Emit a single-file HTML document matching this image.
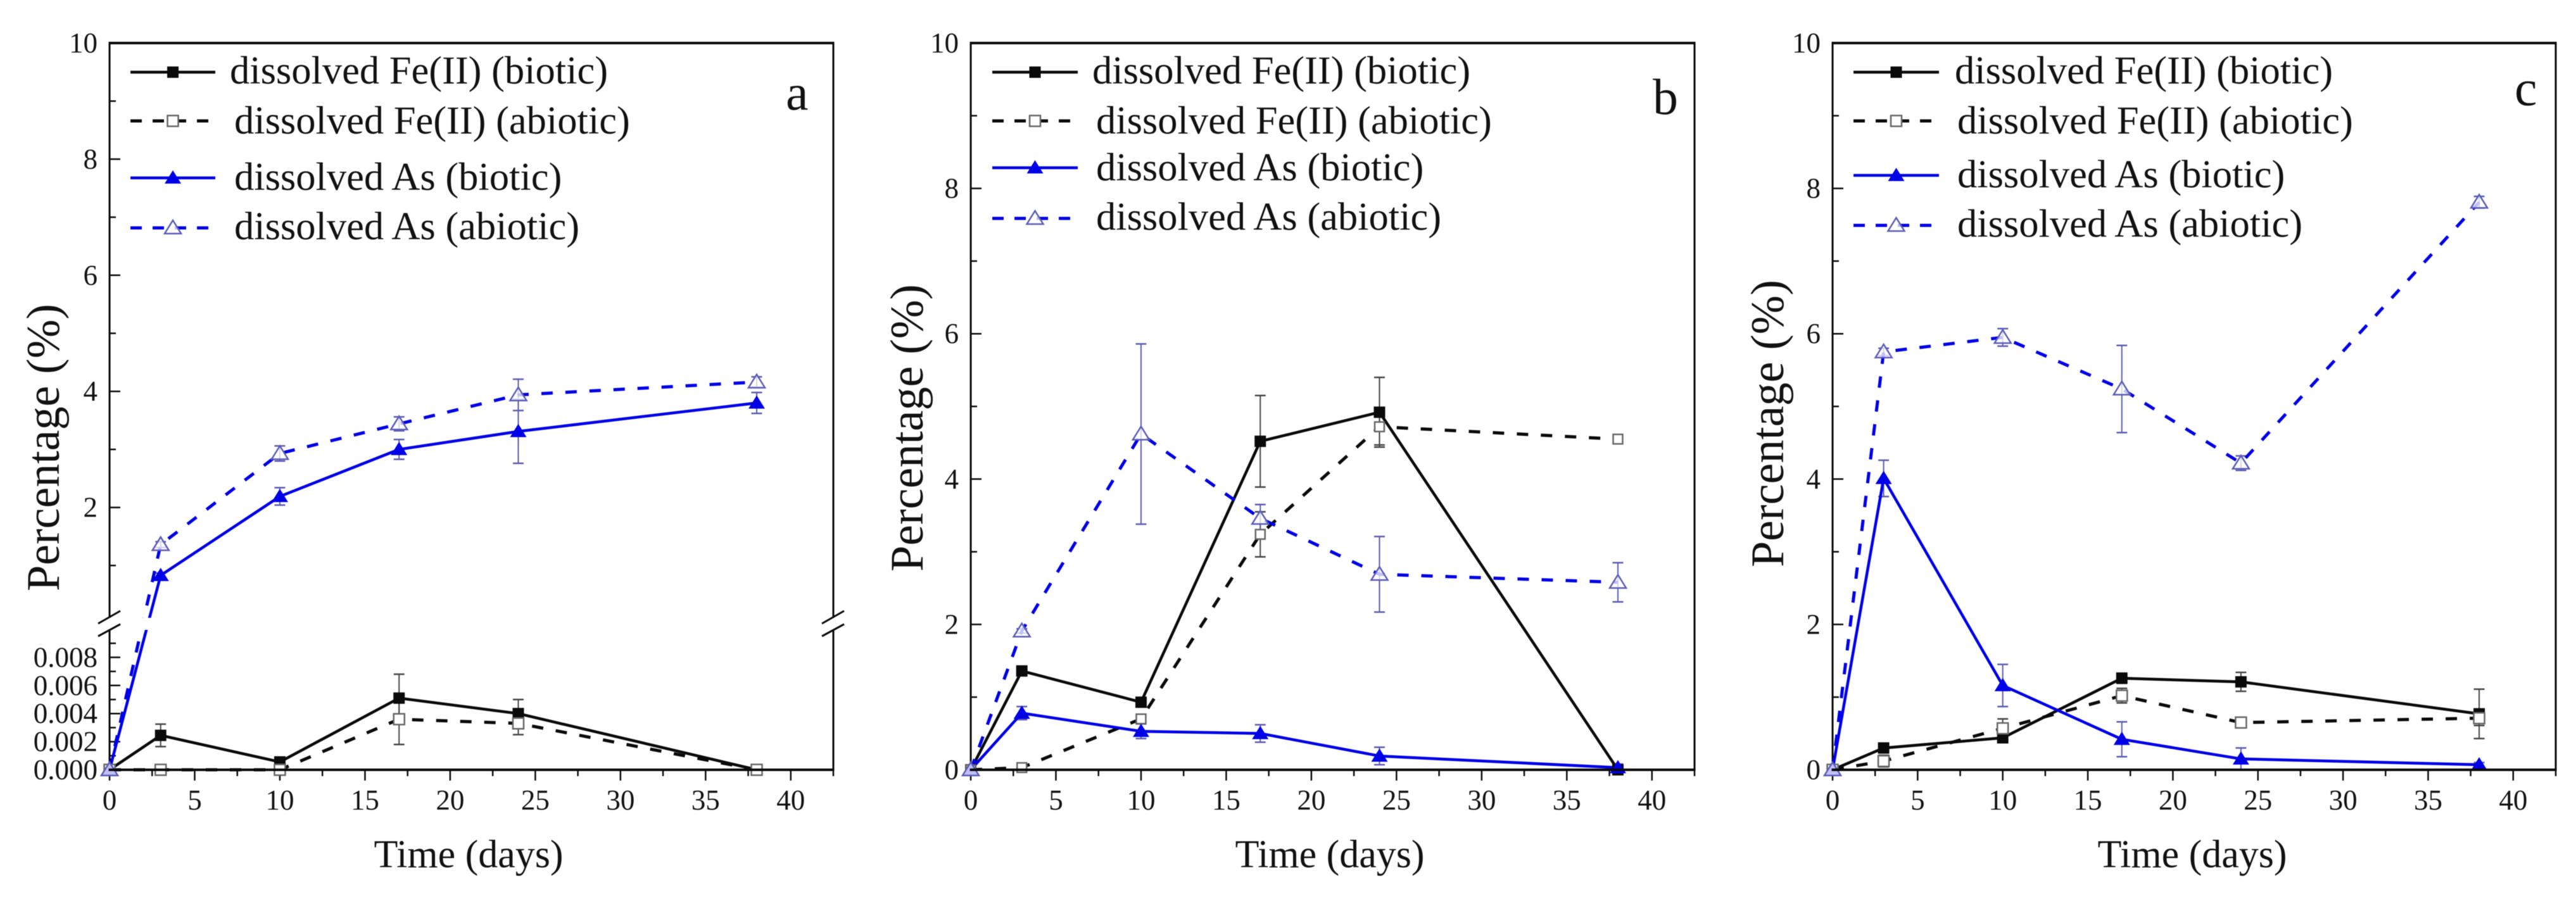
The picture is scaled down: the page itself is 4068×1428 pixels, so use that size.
<!DOCTYPE html>
<html lang="en">
<head>
<meta charset="utf-8">
<title>Dissolved Fe(II) and As percentage over time</title>
<style>
html,body{margin:0;padding:0;background:#fff;width:4068px;height:1428px;overflow:hidden}
svg{display:block;filter:blur(0.6px)}
text{font-family:"Liberation Serif",serif;fill:#111}
.leg{font-size:62.5px}
.xt{font-size:62px}
.yt{font-size:74px}
.pl{font-size:80px}
</style>
</head>
<body>
<svg id="figure" xmlns="http://www.w3.org/2000/svg" width="4068" height="1428" viewBox="0 0 4068 1428">
  <rect width="4068" height="1428" fill="#fff"/>
  <g id="panel-a">
    <g id="plot-a"></g>
    <text class="leg" x="363" y="132">dissolved Fe(II) (biotic)</text>
    <text class="leg" x="370" y="211">dissolved Fe(II) (abiotic)</text>
    <text class="leg" x="370" y="300">dissolved As (biotic)</text>
    <text class="leg" x="370" y="378">dissolved As (abiotic)</text>
    <text class="pl" x="1241" y="173">a</text>
    <text class="xt" x="740" y="1370" text-anchor="middle">Time (days)</text>
    <text class="yt" transform="translate(93 707) rotate(-90)" text-anchor="middle">Percentage (%)</text>
  </g>
  <g id="panel-b">
    <g id="plot-b"></g>
    <text class="leg" x="1725" y="132">dissolved Fe(II) (biotic)</text>
    <text class="leg" x="1731" y="211">dissolved Fe(II) (abiotic)</text>
    <text class="leg" x="1731" y="285">dissolved As (biotic)</text>
    <text class="leg" x="1731" y="363">dissolved As (abiotic)</text>
    <text class="pl" x="2610" y="180">b</text>
    <text class="xt" x="2100" y="1370" text-anchor="middle">Time (days)</text>
    <text class="yt" transform="translate(1457 676) rotate(-90)" text-anchor="middle">Percentage (%)</text>
  </g>
  <g id="panel-c">
    <g id="plot-c"></g>
    <text class="leg" x="3087" y="132">dissolved Fe(II) (biotic)</text>
    <text class="leg" x="3091" y="211">dissolved Fe(II) (abiotic)</text>
    <text class="leg" x="3091" y="296">dissolved As (biotic)</text>
    <text class="leg" x="3091" y="374">dissolved As (abiotic)</text>
    <text class="pl" x="3971" y="166">c</text>
    <text class="xt" x="3462" y="1370" text-anchor="middle">Time (days)</text>
    <text class="yt" transform="translate(2816 669) rotate(-90)" text-anchor="middle">Percentage (%)</text>
  </g>
</svg>
<script>
// ---- shared categories and tick labels ----
const days = [0, 3, 10, 17, 24, 38];
const xTickLabels = [0, 5, 10, 15, 20, 25, 30, 35, 40];
const xMinorTicks = [2.5, 7.5, 12.5, 17.5, 22.5, 27.5, 32.5, 37.5, 42.5];
const yTickLabels = [0, 2, 4, 6, 8, 10];
const yMinorTicks = [1, 3, 5, 7, 9];
const yLowTickLabels = ['0.000', '0.002', '0.004', '0.006', '0.008'];
const yLowMinorTicks = [0.001, 0.003, 0.005, 0.007, 0.009];

// ---- panel a values ----
const aFeBio = [0, 0.00245, 0.00056, 0.0051, 0.004, 0];
const aFeBioErr = [0, 0.0008, 0, 0.0017, 0.001, 0];
const aFeAbio = [0, 0, 0, 0.0036, 0.0033, 0];
const aFeAbioErr = [0, 0, 0, 0.0018, 0.0008, 0];
const aAsBio = [0, 0.83, 2.19, 3.0, 3.31, 3.8];
const aAsBioErr = [0, 0.04, 0.15, 0.17, 0.55, 0.18];
const aAsAbio = [0, 1.36, 2.93, 3.44, 3.94, 4.16];
const aAsAbioErr = [0, 0.05, 0.13, 0.12, 0.27, 0.09];

// ---- panel b values ----
const bFeBio = [0, 1.36, 0.93, 4.52, 4.92, 0];
const bFeBioErr = [0, 0.05, 0.05, 0.63, 0.48, 0];
const bFeAbio = [0, 0.03, 0.7, 3.24, 4.72, 4.55];
const bFeAbioErr = [0, 0.03, 0.05, 0.31, 0.25, 0.05];
const bAsBio = [0, 0.78, 0.53, 0.5, 0.19, 0.03];
const bAsBioErr = [0, 0.09, 0.1, 0.12, 0.12, 0.05];
const bAsAbio = [0, 1.91, 4.62, 3.46, 2.69, 2.58];
const bAsAbioErr = [0, 0.03, 1.24, 0.19, 0.52, 0.27];

// ---- panel c values ----
const cFeBio = [0, 0.3, 0.44, 1.26, 1.21, 0.77];
const cFeBioErr = [0, 0.05, 0.05, 0.07, 0.13, 0.34];
const cFeAbio = [0, 0.12, 0.57, 1.02, 0.65, 0.71];
const cFeAbioErr = [0, 0.08, 0.13, 0.1, 0.05, 0.1];
const cAsBio = [0, 4.01, 1.16, 0.42, 0.15, 0.07];
const cAsBioErr = [0, 0.25, 0.29, 0.24, 0.15, 0.03];
const cAsAbio = [0, 5.75, 5.95, 5.24, 4.22, 7.81];
const cAsAbioErr = [0, 0.05, 0.12, 0.6, 0.1, 0.08];

const NS = 'http://www.w3.org/2000/svg';
const BLACK = '#0a0a0a', BLUE = '#0000e6', EBLACK = '#444', EBLUE = '#5a5ab4', OPENK = '#666', OPENB = '#5c5cb8';
const TOP = 68, BOTTOM = 1216;

function add(parent, tag, name, attrs, txt) {
  const el = document.createElementNS(NS, tag);
  
  
  for (const k in attrs) el.setAttribute(k, attrs[k]);
  if (txt !== undefined) el.textContent = txt;
  parent.appendChild(el);
  return el;
}

function marker(g, name, kind, x, y, sq, col) {
  if (kind === 'fs') {
    add(g, 'rect', name, {x: x - 9, y: y - 9, width: 18, height: 18, fill: BLACK});
  } else if (kind === 'os') {
    add(g, 'rect', name, {x: x - sq / 2, y: y - sq / 2, width: sq, height: sq, fill: '#fff', stroke: col, 'stroke-width': 2.5});
  } else if (kind === 'ft') {
    add(g, 'polygon', name, {points: (x - 13) + ',' + (y + 9) + ' ' + (x + 13) + ',' + (y + 9) + ' ' + x + ',' + (y - 12), fill: BLUE});
  } else {
    add(g, 'polygon', name, {points: (x - 13) + ',' + (y + 9) + ' ' + (x + 13) + ',' + (y + 9) + ' ' + x + ',' + (y - 12), fill: '#fff', 'fill-opacity': 0.75, stroke: col, 'stroke-width': 2.5});
  }
}

function drawPanel(cfg) {
  const g = document.getElementById(cfg.id);
  const sx = v => cfg.x0 + (v / 42.5) * (cfg.x1 - cfg.x0);
  const sy = cfg.y;

  // frame
  add(g, 'line', 'left-axis', {x1: cfg.x0, x2: cfg.x0, y1: TOP, y2: BOTTOM, stroke: BLACK, 'stroke-width': 3});
  add(g, 'line', 'right-axis', {x1: cfg.x1, x2: cfg.x1, y1: TOP, y2: BOTTOM, stroke: BLACK, 'stroke-width': 3});
  add(g, 'line', 'top-axis', {x1: cfg.x0 - 1.5, x2: cfg.x1 + 1.5, y1: TOP, y2: TOP, stroke: BLACK, 'stroke-width': 4});

  // x ticks
  xTickLabels.forEach(v => {
    add(g, 'line', 'x-tick', {x1: sx(v), x2: sx(v), y1: BOTTOM, y2: BOTTOM + 17, stroke: BLACK, 'stroke-width': 2.5});
    add(g, 'text', 'x-tick-label', {x: sx(v), y: 1279, 'text-anchor': 'middle', 'font-size': 45}, String(v));
  });
  xMinorTicks.forEach(v => {
    add(g, 'line', 'x-minor-tick', {x1: sx(v), x2: sx(v), y1: BOTTOM, y2: BOTTOM + 10, stroke: BLACK, 'stroke-width': 2.5});
  });

  // y ticks
  const yTick = (py, len, label) => {
    add(g, 'line', 'y-tick', {x1: cfg.x0, x2: cfg.x0 + len, y1: py, y2: py, stroke: BLACK, 'stroke-width': 2.5});
    if (label !== undefined) {
      add(g, 'text', 'y-tick-label', {x: cfg.x0 - 19, y: py + 15, 'text-anchor': 'end', 'font-size': 45}, label);
    }
  };
  yTickLabels.forEach(v => {
    if (cfg.broken && v === 0) return;
    yTick(sy(v), 17, String(v));
  });
  yMinorTicks.forEach(v => yTick(sy(v), 10));
  if (cfg.broken) {
    yLowTickLabels.forEach(t => yTick(sy(parseFloat(t)), 17, t));
    yLowMinorTicks.forEach(v => yTick(sy(v), 10));
  }

  // series
  const series = [
    {k: 'fe-biotic', vals: cfg.feBio, err: cfg.feBioErr, col: BLACK, ecol: EBLACK, dash: null, mk: 'fs', mcol: BLACK},
    {k: 'fe-abiotic', vals: cfg.feAbio, err: cfg.feAbioErr, col: BLACK, ecol: EBLACK, dash: '18 20', mk: 'os', mcol: OPENK},
    {k: 'as-biotic', vals: cfg.asBio, err: cfg.asBioErr, col: BLUE, ecol: EBLUE, dash: null, mk: 'ft', mcol: BLUE},
    {k: 'as-abiotic', vals: cfg.asAbio, err: cfg.asAbioErr, col: BLUE, ecol: EBLUE, dash: '18 20', mk: 'ot', mcol: OPENB}
  ];

  series.forEach(s => {
    s.vals.forEach((v, i) => {
      const e = s.err[i];
      if (!e) return;
      const x = sx(days[i]), y1 = sy(v + e), y2 = sy(Math.max(v - e, 0));
      add(g, 'line', 'error-bar-' + s.k, {x1: x, x2: x, y1: y1, y2: y2, stroke: s.ecol, 'stroke-width': 2});
      add(g, 'line', 'error-cap-' + s.k, {x1: x - 8.5, x2: x + 8.5, y1: y1, y2: y1, stroke: s.ecol, 'stroke-width': 2.5});
      add(g, 'line', 'error-cap-' + s.k, {x1: x - 8.5, x2: x + 8.5, y1: y2, y2: y2, stroke: s.ecol, 'stroke-width': 2.5});
    });
  });
  series.forEach(s => {
    const pts = s.vals.map((v, i) => sx(days[i]).toFixed(1) + ',' + sy(v).toFixed(1)).join(' ');
    const attrs = {points: pts, fill: 'none', stroke: s.col, 'stroke-width': s.dash ? 5 : 4.5, 'stroke-linejoin': 'round'};
    if (s.dash) attrs['stroke-dasharray'] = s.dash;
    add(g, 'polyline', 'series-line-' + s.k, attrs);
  });
  series.forEach(s => {
    s.vals.forEach((v, i) => marker(g, 'point-' + s.k, s.mk, sx(days[i]), sy(v), cfg.sq, s.mcol));
  });

  // bottom axis over the marks
  add(g, 'line', 'bottom-axis', {x1: cfg.x0 - 1.5, x2: cfg.x1 + 1.5, y1: BOTTOM, y2: BOTTOM, stroke: BLACK, 'stroke-width': 4});

  // axis break
  if (cfg.broken) {
    add(g, 'rect', 'axis-break-gap', {x: cfg.x0 - 3, y: 976, width: cfg.x1 - cfg.x0 + 6, height: 19, fill: '#fff'});
    [cfg.x0, cfg.x1].forEach(ax => {
      add(g, 'line', 'axis-break-mark', {x1: ax - 18, y1: 985, x2: ax + 17, y2: 965, stroke: BLACK, 'stroke-width': 3});
      add(g, 'line', 'axis-break-mark', {x1: ax - 18, y1: 1005, x2: ax + 17, y2: 986, stroke: BLACK, 'stroke-width': 3});
    });
  }

  // legend swatches
  series.forEach((s, i) => {
    const y = cfg.legendY[i];
    const attrs = {x1: cfg.legX0, x2: cfg.legX1, y1: y, y2: y, stroke: s.col, 'stroke-width': s.dash ? 5 : 4.5};
    if (s.dash) attrs['stroke-dasharray'] = '18 17';
    add(g, 'line', 'legend-line-' + s.k, attrs);
    marker(g, 'legend-marker-' + s.k, s.mk, (cfg.legX0 + cfg.legX1) / 2, y, 17, s.mcol);
  });
}

// panel a uses a two-part y axis
function yBroken(v) {
  return v <= 0.0097 ? BOTTOM - v * 22200 : 985 - v * 91.7;
}
function yLinear(v) {
  return BOTTOM - v * 114.8;
}

drawPanel({id: 'plot-a', x0: 173, x1: 1316, y: yBroken, broken: true, sq: 17,
  legX0: 206, legX1: 340, legendY: [114, 191, 281, 360],
  feBio: aFeBio, feBioErr: aFeBioErr, feAbio: aFeAbio, feAbioErr: aFeAbioErr,
  asBio: aAsBio, asBioErr: aAsBioErr, asAbio: aAsAbio, asAbioErr: aAsAbioErr});
drawPanel({id: 'plot-b', x0: 1533, x1: 2676, y: yLinear, broken: false, sq: 15,
  legX0: 1567, legX1: 1702, legendY: [114, 191, 265, 345],
  feBio: bFeBio, feBioErr: bFeBioErr, feAbio: bFeAbio, feAbioErr: bFeAbioErr,
  asBio: bAsBio, asBioErr: bAsBioErr, asAbio: bAsAbio, asAbioErr: bAsAbioErr});
drawPanel({id: 'plot-c', x0: 2894, x1: 4036, y: yLinear, broken: false, sq: 17,
  legX0: 2927, legX1: 3062, legendY: [114, 191, 277, 356],
  feBio: cFeBio, feBioErr: cFeBioErr, feAbio: cFeAbio, feAbioErr: cFeAbioErr,
  asBio: cAsBio, asBioErr: cAsBioErr, asAbio: cAsAbio, asAbioErr: cAsAbioErr});
</script>
</body>
</html>
